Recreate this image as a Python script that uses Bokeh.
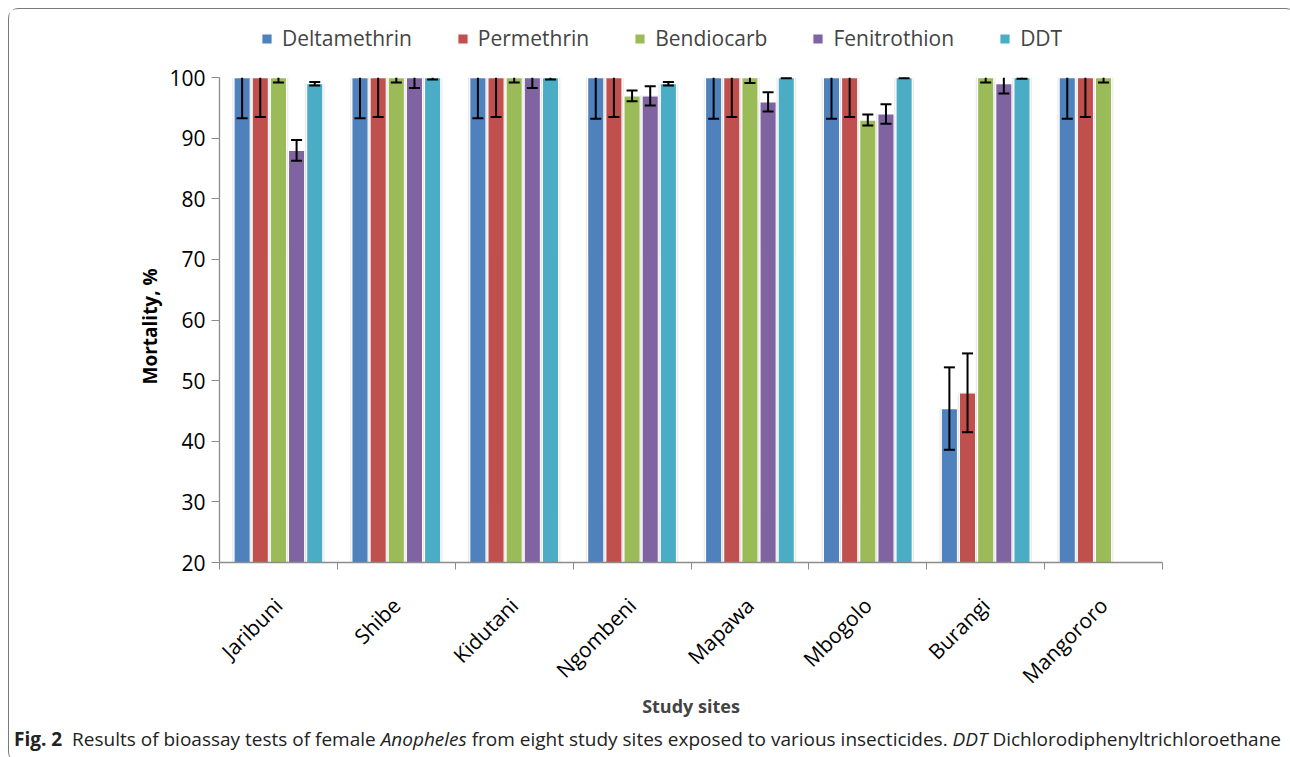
import math
import numpy as np
from bokeh.plotting import figure
from bokeh.models import (ColumnDataSource, Range1d, FixedTicker, Legend, LegendItem, Div, Title)
from bokeh.layouts import column
from bokeh.embed import file_html
from bokeh.resources import INLINE

# ---------------- data ----------------
sites = ["Jaribuni", "Shibe", "Kidutani", "Ngombeni", "Mapawa", "Mbogolo", "Burangi", "Mangororo"]
insecticides = ["Deltamethrin", "Permethrin", "Bendiocarb", "Fenitrothion", "DDT"]
colors = ["#4F81BD", "#C0504D", "#9BBB59", "#8064A2", "#4BACC6"]

deltamethrin = [100, 100, 100, 100, 100, 100, 45.4, 100]
deltamethrin_err = [6.7, 6.7, 6.7, 6.8, 6.8, 6.8, 6.8, 6.8]
permethrin = [100, 100, 100, 100, 100, 100, 48, 100]
permethrin_err = [6.5, 6.5, 6.5, 6.5, 6.5, 6.5, 6.5, 6.5]
bendiocarb = [100, 100, 100, 97, 100, 93, 100, 100]
bendiocarb_err = [0.8, 0.8, 0.8, 0.9, 0.9, 0.9, 0.8, 0.8]
fenitrothion = [88, 100, 100, 97, 96, 94, 99, float("nan")]
fenitrothion_err = [1.7, 1.7, 1.7, 1.6, 1.6, 1.6, 1.6, float("nan")]
ddt = [99, 100, 100, 99, 100, 100, 100, float("nan")]
ddt_err = [0.3, 0.3, 0.3, 0.3, 0.1, 0.1, 0.2, float("nan")]

series = [deltamethrin, permethrin, bendiocarb, fenitrothion, ddt]
errors = [deltamethrin_err, permethrin_err, bendiocarb_err, fenitrothion_err, ddt_err]

y_ticks = [20, 30, 40, 50, 60, 70, 80, 90, 100]
y_min, y_max = 20, 100
y_headroom = 9.76   # space above 100 for the legend (inside the plot frame)

FONT = "Open Sans"

# ---------------- figure ----------------
p = figure(width=1276, height=712, output_backend="svg", toolbar_location=None,
           x_range=Range1d(0, len(sites)), y_range=Range1d(y_min, y_max + y_headroom),
           min_border_left=210, min_border_right=123, min_border_top=9, min_border_bottom=151)
p.outline_line_color = None
p.grid.visible = False
p.background_fill_color = "white"

slot = 0.154
bar_w = 0.138
renderers = []
for k, (vals, errs, col) in enumerate(zip(series, errors, colors)):
    xs = [i + 0.5 + (k - 2) * slot for i in range(len(sites))]
    v = np.array(vals, dtype=float)
    e = np.array(errs, dtype=float)
    lower = v - e
    upper_raw = v + e
    upper = np.minimum(upper_raw, y_max)
    upper_cap = np.where(upper_raw <= y_max, upper_raw, np.nan)
    src = ColumnDataSource(dict(x=xs, top=v, lower=lower, upper=upper, upper_cap=upper_cap))
    # soft shadow
    p.vbar(x="x", top="top", bottom=y_min, width=bar_w + 0.03, source=src,
           fill_color="#dcdcdc", fill_alpha=0.6, line_color=None)
    r = p.vbar(x="x", top="top", bottom=y_min, width=bar_w, source=src,
               fill_color=col, line_color="white", line_width=1.2)
    renderers.append(r)
    p.segment(x0="x", y0="lower", x1="x", y1="upper", source=src, line_color="black", line_width=2)
    p.scatter(x="x", y="lower", marker="dash", size=11, source=src, line_color="black", line_width=2)
    p.scatter(x="x", y="upper_cap", marker="dash", size=11, source=src, line_color="black", line_width=2)

# ---------------- axes ----------------
axis_col = "#8c8c8c"
xa = p.xaxis[0]
xa.ticker = FixedTicker(ticks=[i + 0.5 for i in range(len(sites))],
                        minor_ticks=list(range(len(sites) + 1)))
xa.major_label_overrides = {i + 0.5: s for i, s in enumerate(sites)}
xa.major_label_orientation = math.pi / 4
xa.major_tick_line_color = None
xa.major_tick_out = 7
xa.major_tick_in = 0
xa.minor_tick_out = 7
xa.minor_tick_in = 0
xa.minor_tick_line_color = axis_col
xa.axis_line_color = axis_col
xa.axis_line_width = 1.3
xa.major_label_text_font = FONT
xa.major_label_text_font_size = "21px"
xa.major_label_text_color = "black"
xa.major_label_standoff = 32
xa.axis_label = "Study sites"
xa.axis_label_text_font = FONT
xa.axis_label_text_font_style = "bold"
xa.axis_label_text_font_size = "18px"
xa.axis_label_standoff = -8

ya = p.yaxis[0]
ya.ticker = FixedTicker(ticks=y_ticks, minor_ticks=[])
ya.bounds = (y_min, y_max)
ya.major_tick_out = 8
ya.major_tick_in = 0
ya.major_tick_line_color = axis_col
ya.axis_line_color = axis_col
ya.axis_line_width = 1.3
ya.major_label_text_font = FONT
ya.major_label_text_font_size = "21px"
ya.major_label_text_color = "black"
ya.major_label_standoff = 6

# y-axis title, positioned along the 20-100 part of the frame
ytitle = Title(text="Mortality, %", align="left", offset=178, vertical_align="bottom",
               text_font=FONT, text_font_style="bold", text_font_size="19px",
               text_color="black", standoff=8)
p.add_layout(ytitle, "left")

# ---------------- legend ----------------
legend = Legend(items=[LegendItem(label=n, renderers=[r]) for n, r in zip(insecticides, renderers)],
                orientation="horizontal", location=(41, 510),
                glyph_width=13, glyph_height=13, label_standoff=9, spacing=44,
                padding=0, margin=0, border_line_color=None, background_fill_alpha=0,
                label_text_font=FONT, label_text_font_size="21px", label_width=10,
                label_height=24)
p.add_layout(legend, "center")

caption = Div(text=('<b>Fig.&nbsp;2</b>&nbsp; Results of bioassay tests of female <i>Anopheles</i> '
                    'from eight study sites exposed to various insecticides. <i>DDT</i> '
                    'Dichlorodiphenyltrichloroethane'),
              width=1276, height=30,
              styles={"font-family": "Open Sans", "font-size": "19px", "color": "#222",
                      "padding-left": "0px", "white-space": "nowrap"})

layout = column(p, caption, styles={"border": "1.3px solid #7a7a7a", "border-radius": "10px",
                                    "margin-left": "8px", "margin-top": "8px"})

open("out.html", "w").write(file_html(layout, INLINE))
